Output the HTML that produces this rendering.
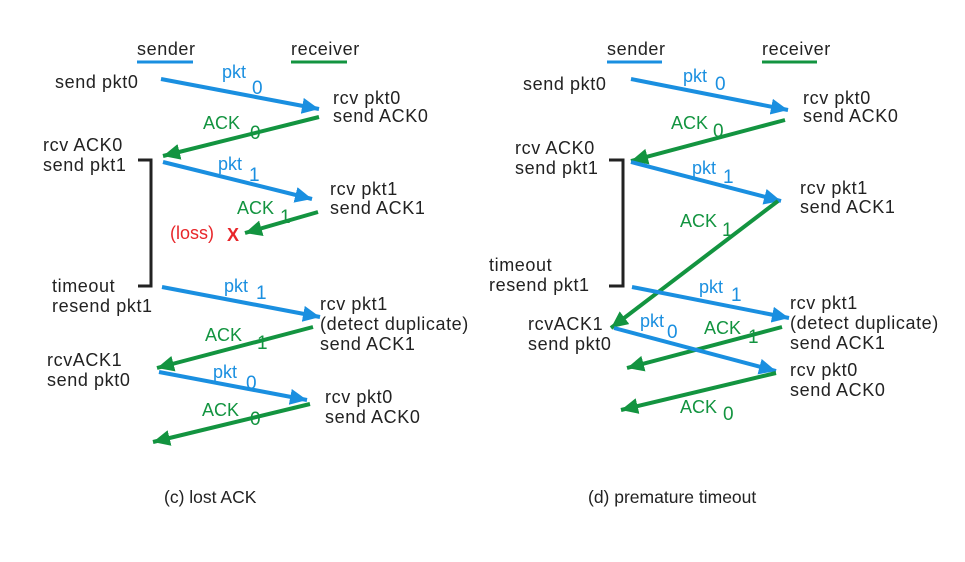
<!DOCTYPE html>
<html><head><meta charset="utf-8"><style>
html,body{margin:0;padding:0;background:#fff;}
svg{display:block;}
text{font-family:"Liberation Sans",sans-serif;font-size:18px;}
.k{fill:#222;letter-spacing:0.6px;}
.c{fill:#222;font-size:17.5px;}
.b{fill:#1a8fe0;}
.g{fill:#139440;}
.s{font-size:19px;}
</style></head><body>
<svg width="965" height="562" viewBox="0 0 965 562" xmlns="http://www.w3.org/2000/svg">
<defs>
<marker id="ab" markerUnits="userSpaceOnUse" markerWidth="20" markerHeight="20" refX="17" refY="8" orient="auto"><path d="M0,0 L17,8 L0,16 Z" fill="#1a8fe0"/></marker>
<marker id="ag" markerUnits="userSpaceOnUse" markerWidth="20" markerHeight="20" refX="17" refY="8" orient="auto"><path d="M0,0 L17,8 L0,16 Z" fill="#139440"/></marker>
</defs>
<g stroke-width="4" fill="none">
<line x1="137" y1="62" x2="193" y2="62" stroke="#1a8fe0" stroke-width="3"/>
<line x1="291" y1="62" x2="347" y2="62" stroke="#139440" stroke-width="3"/>
<line x1="161" y1="79" x2="319" y2="109" stroke="#1a8fe0" marker-end="url(#ab)"/>
<line x1="319" y1="117" x2="163" y2="156" stroke="#139440" marker-end="url(#ag)"/>
<line x1="163" y1="162" x2="312" y2="199" stroke="#1a8fe0" marker-end="url(#ab)"/>
<line x1="318" y1="212" x2="245" y2="233" stroke="#139440" marker-end="url(#ag)"/>
<line x1="162" y1="287" x2="320" y2="317" stroke="#1a8fe0" marker-end="url(#ab)"/>
<line x1="313" y1="327" x2="157" y2="368" stroke="#139440" marker-end="url(#ag)"/>
<line x1="159" y1="372" x2="307" y2="400" stroke="#1a8fe0" marker-end="url(#ab)"/>
<line x1="310" y1="404" x2="153" y2="442" stroke="#139440" marker-end="url(#ag)"/>
<path d="M138,160 H151 V286 H138" stroke="#222" stroke-width="3"/>
<line x1="607" y1="62" x2="662" y2="62" stroke="#1a8fe0" stroke-width="3"/>
<line x1="762" y1="62" x2="817" y2="62" stroke="#139440" stroke-width="3"/>
<line x1="631" y1="79" x2="788" y2="110" stroke="#1a8fe0" marker-end="url(#ab)"/>
<line x1="785" y1="120" x2="631" y2="161" stroke="#139440" marker-end="url(#ag)"/>
<line x1="631" y1="162" x2="781" y2="201" stroke="#1a8fe0" marker-end="url(#ab)"/>
<line x1="778" y1="201" x2="611" y2="328" stroke="#139440" marker-end="url(#ag)"/>
<line x1="632" y1="287" x2="789" y2="318" stroke="#1a8fe0" marker-end="url(#ab)"/>
<line x1="782" y1="327" x2="627" y2="368" stroke="#139440" marker-end="url(#ag)"/>
<line x1="614" y1="328" x2="776" y2="371" stroke="#1a8fe0" marker-end="url(#ab)"/>
<line x1="776" y1="373" x2="621" y2="410" stroke="#139440" marker-end="url(#ag)"/>
<path d="M609,160 H623 V286 H609" stroke="#222" stroke-width="3"/>
</g>
<text x="137" y="55" class="k">sender</text>
<text x="291" y="55" class="k">receiver</text>
<text x="55" y="88" class="k">send pkt0</text>
<text x="222" y="78" class="b">pkt</text><text x="252" y="94" class="b s">0</text>
<text x="333" y="104" class="k">rcv pkt0</text>
<text x="333" y="122" class="k">send ACK0</text>
<text x="203" y="129" class="g">ACK</text><text x="250" y="139" class="g s">0</text>
<text x="43" y="151" class="k">rcv ACK0</text>
<text x="43" y="171" class="k">send pkt1</text>
<text x="218" y="170" class="b">pkt</text><text x="249" y="181" class="b s">1</text>
<text x="330" y="195" class="k">rcv pkt1</text>
<text x="330" y="214" class="k">send ACK1</text>
<text x="237" y="214" class="g">ACK</text><text x="280" y="223" class="g s">1</text>
<text x="170" y="239" fill="#e8262a">(loss)</text>
<text x="227" y="241" fill="#e8262a" font-size="21" font-weight="bold">X</text>
<text x="52" y="292" class="k">timeout</text>
<text x="52" y="312" class="k">resend pkt1</text>
<text x="224" y="292" class="b">pkt</text><text x="256" y="299" class="b s">1</text>
<text x="320" y="310" class="k">rcv pkt1</text>
<text x="320" y="330" class="k">(detect duplicate)</text>
<text x="320" y="350" class="k">send ACK1</text>
<text x="205" y="341" class="g">ACK</text><text x="257" y="349" class="g s">1</text>
<text x="47" y="366" class="k">rcvACK1</text>
<text x="47" y="386" class="k">send pkt0</text>
<text x="213" y="378" class="b">pkt</text><text x="246" y="389" class="b s">0</text>
<text x="325" y="403" class="k">rcv pkt0</text>
<text x="325" y="423" class="k">send ACK0</text>
<text x="202" y="416" class="g">ACK</text><text x="250" y="425" class="g s">0</text>
<text x="164" y="503" class="c">(c) lost ACK</text>
<text x="607" y="55" class="k">sender</text>
<text x="762" y="55" class="k">receiver</text>
<text x="523" y="90" class="k">send pkt0</text>
<text x="683" y="82" class="b">pkt</text><text x="715" y="90" class="b s">0</text>
<text x="803" y="104" class="k">rcv pkt0</text>
<text x="803" y="122" class="k">send ACK0</text>
<text x="671" y="129" class="g">ACK</text><text x="713" y="137" class="g s">0</text>
<text x="515" y="154" class="k">rcv ACK0</text>
<text x="515" y="174" class="k">send pkt1</text>
<text x="692" y="174" class="b">pkt</text><text x="723" y="183" class="b s">1</text>
<text x="800" y="194" class="k">rcv pkt1</text>
<text x="800" y="213" class="k">send ACK1</text>
<text x="680" y="227" class="g">ACK</text><text x="722" y="236" class="g s">1</text>
<text x="489" y="271" class="k">timeout</text>
<text x="489" y="291" class="k">resend pkt1</text>
<text x="699" y="293" class="b">pkt</text><text x="731" y="301" class="b s">1</text>
<text x="790" y="309" class="k">rcv pkt1</text>
<text x="790" y="329" class="k">(detect duplicate)</text>
<text x="790" y="349" class="k">send ACK1</text>
<text x="528" y="330" class="k">rcvACK1</text>
<text x="528" y="350" class="k">send pkt0</text>
<text x="640" y="327" class="b">pkt</text><text x="667" y="338" class="b s">0</text>
<text x="704" y="334" class="g">ACK</text><text x="748" y="343" class="g s">1</text>
<text x="790" y="376" class="k">rcv pkt0</text>
<text x="790" y="396" class="k">send ACK0</text>
<text x="680" y="413" class="g">ACK</text><text x="723" y="420" class="g s">0</text>
<text x="588" y="503" class="c">(d) premature timeout</text>
</svg>
</body></html>
